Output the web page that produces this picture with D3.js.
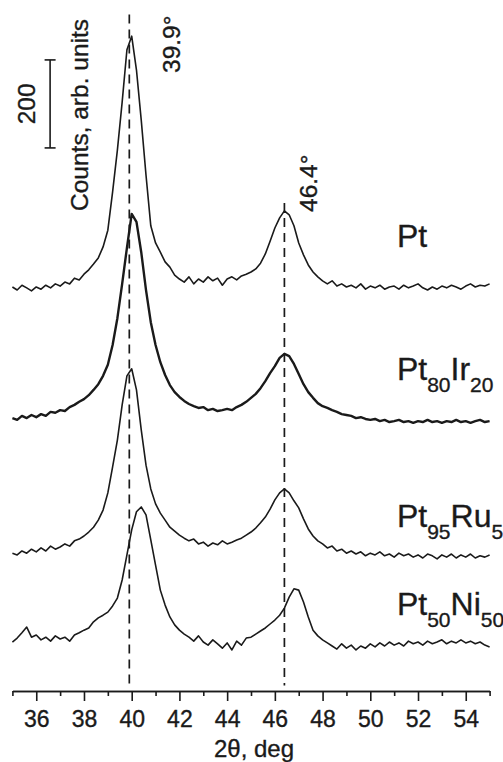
<!DOCTYPE html>
<html>
<head>
<meta charset="utf-8">
<script src="https://cdn.jsdelivr.net/npm/d3@7"></script>
<style>
  body { margin: 0; background: #fff; }
  svg text { font-family: "Liberation Sans", Arial, sans-serif; fill: #1a1a1a; stroke: #1a1a1a; stroke-width: 0.35px; }
</style>
</head>
<body>
<div id="chart"></div>
<script>
// 2theta sampling grid, 35..55 deg every 0.2 deg
var twoTheta = d3.range(101).map(function(i) { return +(35 + i * 0.2).toFixed(1); });

// counts (stacked, arb. units)
var ptCounts = [
  916, 909, 920, 914, 907, 916, 911, 920, 914, 923,
  918, 927, 923, 936, 932, 945, 955, 968, 982, 1007,
  1045, 1132, 1227, 1336, 1455, 1486, 1409, 1295, 1170, 1055,
  1016, 995, 973, 961, 943, 934, 927, 939, 923, 934,
  927, 939, 930, 936, 920, 934, 939, 932, 941, 945,
  950, 957, 970, 991, 1020, 1050, 1073, 1089, 1080, 1055,
  1016, 989, 966, 950, 939, 930, 923, 930, 918, 923,
  916, 920, 914, 923, 911, 918, 914, 920, 911, 916,
  918, 911, 920, 914, 918, 923, 914, 909, 916, 911,
  918, 914, 920, 916, 911, 918, 923, 916, 920, 918,
  923
];
var ptIrCounts = [
  618, 614, 623, 618, 625, 620, 627, 623, 632, 630,
  636, 634, 643, 648, 655, 661, 670, 682, 695, 714,
  739, 784, 845, 923, 1005, 1082, 1064, 995, 909, 836,
  784, 745, 716, 693, 677, 666, 657, 650, 645, 641,
  643, 636, 639, 634, 636, 639, 636, 643, 648, 655,
  664, 673, 686, 702, 720, 736, 755, 764, 759, 741,
  718, 695, 677, 664, 652, 645, 641, 636, 632, 627,
  625, 623, 618, 620, 616, 614, 616, 611, 614, 609,
  611, 614, 609, 611, 607, 611, 609, 614, 609, 611,
  607, 611, 609, 614, 609, 611, 607, 611, 614, 609,
  611
];
var ptRuCounts = [
  311, 307, 316, 311, 320, 314, 323, 316, 327, 320,
  325, 332, 327, 339, 343, 350, 359, 370, 386, 409,
  448, 507, 568, 648, 714, 730, 682, 591, 511, 457,
  423, 402, 386, 370, 361, 352, 345, 339, 343, 332,
  336, 327, 334, 330, 339, 332, 336, 341, 345, 352,
  359, 368, 380, 393, 411, 432, 448, 457, 448, 430,
  414, 389, 366, 350, 339, 332, 323, 327, 316, 320,
  311, 316, 309, 314, 305, 311, 307, 314, 305, 309,
  302, 311, 305, 309, 302, 307, 300, 309, 305, 298,
  307, 302, 309, 300, 307, 302, 309, 300, 305, 302,
  307
];
var ptNiCounts = [
  109, 118, 130, 143, 120, 125, 114, 120, 111, 123,
  116, 120, 111, 125, 130, 136, 141, 155, 164, 170,
  177, 191, 209, 250, 307, 364, 405, 416, 398, 341,
  284, 227, 193, 166, 148, 136, 127, 120, 111, 123,
  109, 102, 114, 105, 95, 107, 91, 111, 102, 118,
  120, 127, 134, 141, 150, 159, 170, 186, 211, 230,
  227, 200, 166, 136, 123, 114, 107, 100, 93, 105,
  95, 102, 91, 100, 95, 105, 98, 107, 100, 109,
  102, 107, 100, 111, 105, 109, 102, 111, 105, 109,
  114, 105, 111, 107, 114, 107, 111, 105, 109, 102,
  98
];

// sample names: [main, sub, main, sub]
var sampleNames = [
  ['Pt'],
  ['Pt', '80', 'Ir', '20'],
  ['Pt', '95', 'Ru', '5'],
  ['Pt', '50', 'Ni', '50']
];
var peakPositions = [39.9, 46.4];
var majorTicks = d3.range(36, 55, 2);
var minorTicks = d3.range(35, 56, 2);
var scaleBarCounts = 200;

var width = 503, height = 762;
var axisY = 691;

var svg = d3.select('#chart').append('svg').attr('width', width).attr('height', height);

var x = d3.scaleLinear().domain([35, 55]).range([12.4, 489.6]);
var y = d3.scaleLinear().domain([0, 1500]).range([690, 30]);

// dashed reference lines at peak positions
var refTops = [1535, 1107];
svg.selectAll('line.ref')
  .data(peakPositions)
  .enter()
  .append('line')
  .attr('class', 'ref')
  .attr('x1', function(d) { return x(d); })
  .attr('x2', function(d) { return x(d); })
  .attr('y1', function(d, i) { return y(refTops[i]); })
  .attr('y2', y(10))
  .attr('stroke', '#1a1a1a')
  .attr('stroke-width', 1.7)
  .attr('stroke-dasharray', '9,6');

// patterns
var series = [ptCounts, ptIrCounts, ptRuCounts, ptNiCounts];
var strokeWidths = [1.6, 2.4, 1.6, 1.6];
var line = d3.line()
  .x(function(d, i) { return x(twoTheta[i]); })
  .y(function(d) { return y(d); });

svg.selectAll('path.pattern')
  .data(series)
  .enter()
  .append('path')
  .attr('class', 'pattern')
  .attr('d', line)
  .attr('fill', 'none')
  .attr('stroke', '#1a1a1a')
  .attr('stroke-width', function(d, i) { return strokeWidths[i]; })
  .attr('stroke-linejoin', 'round');

// x axis, major and minor ticks
var axisG = svg.append('g').attr('transform', 'translate(0,' + axisY + ')');
axisG.append('g')
  .call(d3.axisBottom(x).tickValues(minorTicks).tickSize(5).tickSizeOuter(0).tickFormat(''));
axisG.append('g')
  .call(d3.axisBottom(x).tickValues(majorTicks).tickSize(10).tickSizeOuter(0).tickPadding(10));
axisG.selectAll('path, line').attr('stroke', '#1a1a1a').attr('stroke-width', 1.6);
axisG.selectAll('text').attr('font-size', 23).attr('fill', '#1a1a1a');

svg.append('text')
  .attr('x', 254)
  .attr('y', 757)
  .attr('text-anchor', 'middle')
  .attr('font-size', 24)
  .text('2θ, deg');

// peak labels (rotated)
var peakLabelPos = [[180, 73], [317, 212]];
svg.selectAll('text.peak')
  .data(peakPositions)
  .enter()
  .append('text')
  .attr('class', 'peak')
  .attr('transform', function(d, i) {
    return 'translate(' + peakLabelPos[i][0] + ',' + peakLabelPos[i][1] + ') rotate(-90)';
  })
  .attr('font-size', 24.5)
  .text(function(d) { return d.toFixed(1) + '°'; });

// y label and scale bar
svg.append('text')
  .attr('transform', 'translate(88,211) rotate(-90)')
  .attr('font-size', 24.5)
  .text('Counts, arb. units');

var barX = x(36.58);
var barBottom = 1232;
var bar = svg.append('g').attr('stroke', '#1a1a1a').attr('stroke-width', 1.6);
bar.append('line').attr('x1', barX).attr('x2', barX)
  .attr('y1', y(barBottom)).attr('y2', y(barBottom + scaleBarCounts));
bar.append('line').attr('x1', barX - 5.5).attr('x2', barX + 5.5)
  .attr('y1', y(barBottom)).attr('y2', y(barBottom));
bar.append('line').attr('x1', barX - 5.5).attr('x2', barX + 5.5)
  .attr('y1', y(barBottom + scaleBarCounts)).attr('y2', y(barBottom + scaleBarCounts));
svg.append('text')
  .attr('transform', 'translate(35,' + y(barBottom + scaleBarCounts / 2) + ') rotate(-90)')
  .attr('text-anchor', 'middle')
  .attr('font-size', 24.5)
  .text(scaleBarCounts);

// sample labels with subscripts
var labelX = 51.2;
var labelBase = [1007, 705, 370, 170];
svg.selectAll('text.sample')
  .data(sampleNames)
  .enter()
  .append('text')
  .attr('class', 'sample')
  .attr('x', x(labelX) - 2)
  .attr('y', function(d, i) { return y(labelBase[i]); })
  .each(function(parts) {
    var t = d3.select(this);
    parts.forEach(function(p, j) {
      var sub = j % 2 === 1;
      t.append('tspan')
        .attr('font-size', sub ? 21 : 32)
        .attr('dy', j === 0 ? 0 : (sub ? 12 : -12))
        .text(p);
    });
  });
</script>
</body>
</html>
